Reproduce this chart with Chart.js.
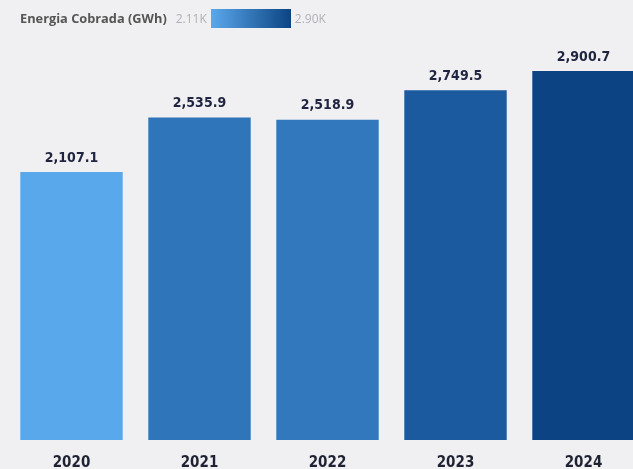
<!DOCTYPE html>
<html>
<head>
<meta charset="utf-8">
<script src="https://cdn.jsdelivr.net/npm/chart.js@4.4.1/dist/chart.umd.min.js"></script>
<style>
  html, body { margin: 0; padding: 0; background: #f0f0f2; overflow: hidden; width: 633px; height: 469px; }
  #wrap { position: relative; width: 655px; height: 469px; }
  #legend { position: absolute; left: 20px; top: 8px; height: 20px; display: flex; align-items: center; font-family: "Open Sans", sans-serif; }
  #legend .title { font-size: 12.8px; font-weight: bold; color: #555; margin-right: 9px; }
  #legend .val { font-size: 12px; color: #b0b0b6; }
  #legend .bar { width: 80px; height: 19px; margin: 0 4px; }
</style>
</head>
<body>
<div id="wrap">
  <canvas id="barChart" width="655" height="469"></canvas>
  <div id="legend">
    <span class="title">Energia Cobrada (GWh)</span>
    <span class="val" id="minVal"></span>
    <span class="bar" id="gradBar"></span>
    <span class="val" id="maxVal"></span>
  </div>
</div>
<script>
const years = ["2020", "2021", "2022", "2023", "2024"];
const energia = [2107.1, 2535.9, 2518.9, 2749.5, 2900.7];
const barColors = ["#5aa8ec", "#2f75ba", "#3278bc", "#1b5a9e", "#0c4483"];

// Legend (gradient scale)
const minV = Math.min(...energia);
const maxV = Math.max(...energia);
document.getElementById("minVal").textContent = (minV / 1000).toFixed(2) + "K";
document.getElementById("maxVal").textContent = (maxV / 1000).toFixed(2) + "K";
document.getElementById("gradBar").style.background =
  `linear-gradient(to right, ${barColors[0]}, ${barColors[barColors.length - 1]})`;

// Value labels above bars
const valueLabels = {
  id: "valueLabels",
  afterDatasetsDraw(chart) {
    const ctx = chart.ctx;
    const meta = chart.getDatasetMeta(0);
    ctx.save();
    ctx.font = "bold 14px 'DejaVu Sans Condensed', sans-serif";
    ctx.fillStyle = "#1f2440";
    ctx.textAlign = "center";
    ctx.textBaseline = "bottom";
    meta.data.forEach((bar, i) => {
      const txt = energia[i].toLocaleString("en-US", { minimumFractionDigits: 1, maximumFractionDigits: 1 });
      ctx.fillText(txt, bar.x, bar.y - 7);
    });
    ctx.restore();
  },
};

const ctx = document.getElementById("barChart").getContext("2d");
new Chart(ctx, {
  type: "bar",
  data: {
    labels: years,
    datasets: [
      {
        label: "Energia Cobrada (GWh)",
        data: energia,
        backgroundColor: barColors,
        categoryPercentage: 1,
        barPercentage: 0.8,
      },
    ],
  },
  options: {
    responsive: false,
    animation: false,
    layout: { padding: { top: 33, left: 7.5, right: 7.5, bottom: -9 } },
    plugins: { legend: { display: false }, tooltip: { enabled: false } },
    scales: {
      x: {
        grid: { display: false },
        border: { display: false },
        ticks: {
          color: "#1f2233",
          padding: 6,
          font: { family: "'DejaVu Sans Condensed', sans-serif", size: 15, weight: "bold" },
        },
      },
      y: { display: false, min: 0, max: 3200 },
    },
  },
  plugins: [valueLabels],
});
</script>
</body>
</html>
